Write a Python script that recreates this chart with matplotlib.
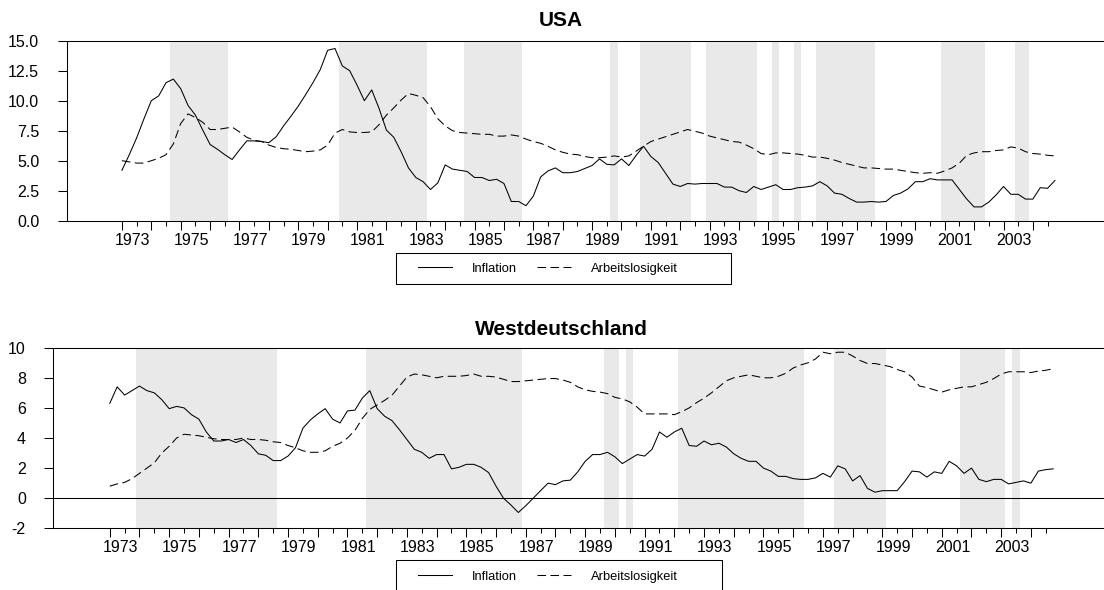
import numpy as np
import matplotlib
matplotlib.use('Agg')
import matplotlib.pyplot as plt
from matplotlib.lines import Line2D
from matplotlib.patches import Rectangle
import matplotlib.transforms as mtransforms

plt.rcParams['font.family'] = ['Liberation Sans', 'DejaVu Sans']

# quarterly data 1973Q1 - 2004Q4
start_year = 1973
n_quarters = 128
quarters = start_year + np.arange(n_quarters) / 4.0

usa_infl = [4.2, 5.5, 6.9, 8.5, 10.0, 10.4, 11.5, 11.8, 11.0, 9.6, 8.8, 7.55, 6.35, 5.95, 5.5, 5.1,
            5.9, 6.65, 6.65, 6.6, 6.5, 7.0, 7.9, 8.7, 9.55, 10.5, 11.5, 12.6, 14.2, 14.35, 12.9, 12.5,
            11.3, 10.0, 10.9, 9.35, 7.55, 6.95, 5.75, 4.4, 3.6, 3.25, 2.6, 3.15, 4.65, 4.3, 4.2, 4.1,
            3.6, 3.6, 3.35, 3.45, 3.1, 1.6, 1.6, 1.25, 2.05, 3.65, 4.15, 4.4, 4.0, 4.0, 4.1, 4.35,
            4.6, 5.15, 4.7, 4.65, 5.15, 4.6, 5.45, 6.2, 5.35, 4.85, 3.95, 3.05, 2.85, 3.1, 3.05, 3.1,
            3.1, 3.1, 2.8, 2.8, 2.5, 2.35, 2.85, 2.6, 2.8, 3.0, 2.6, 2.6, 2.75, 2.8, 2.9, 3.25,
            2.9, 2.3, 2.2, 1.85, 1.55, 1.55, 1.6, 1.55, 1.6, 2.1, 2.3, 2.65, 3.25, 3.25, 3.5, 3.4,
            3.4, 3.4, 2.6, 1.8, 1.15, 1.15, 1.55, 2.15, 2.85, 2.2, 2.2, 1.8, 1.8, 2.75, 2.7, 3.35]
usa_unemp = [5.0, 4.9, 4.8, 4.8, 5.0, 5.2, 5.5, 6.4, 8.1, 8.9, 8.6, 8.2, 7.6, 7.6, 7.7, 7.8,
             7.4, 6.95, 6.7, 6.6, 6.3, 6.1, 6.0, 5.95, 5.85, 5.75, 5.8, 5.9, 6.3, 7.3, 7.6, 7.4,
             7.35, 7.35, 7.4, 8.0, 8.8, 9.4, 10.05, 10.6, 10.45, 10.25, 9.5, 8.5, 7.9, 7.5, 7.35, 7.3,
             7.25, 7.2, 7.2, 7.05, 7.05, 7.15, 7.05, 6.8, 6.6, 6.45, 6.2, 5.9, 5.7, 5.55, 5.5, 5.35,
             5.25, 5.25, 5.3, 5.4, 5.3, 5.4, 5.8, 6.2, 6.6, 6.8, 7.0, 7.2, 7.4, 7.6, 7.45, 7.3,
             7.05, 6.9, 6.75, 6.6, 6.55, 6.3, 6.0, 5.6, 5.5, 5.65, 5.65, 5.6, 5.55, 5.45, 5.3, 5.3,
             5.2, 5.05, 4.85, 4.7, 4.55, 4.4, 4.4, 4.35, 4.3, 4.3, 4.2, 4.1, 4.0, 3.95, 4.0, 3.95,
             4.15, 4.4, 4.8, 5.45, 5.65, 5.75, 5.75, 5.85, 5.9, 6.15, 6.05, 5.75, 5.6, 5.55, 5.45, 5.4]
wd_infl = [6.3, 7.4, 6.85, 7.15, 7.45, 7.15, 7.0, 6.55, 5.95, 6.1, 6.0, 5.55, 5.25, 4.4, 3.8, 3.8,
           3.9, 3.7, 3.9, 3.5, 2.95, 2.85, 2.5, 2.5, 2.8, 3.35, 4.65, 5.2, 5.6, 5.95, 5.25, 5.0,
           5.8, 5.85, 6.65, 7.15, 5.95, 5.45, 5.15, 4.55, 3.9, 3.25, 3.05, 2.65, 2.9, 2.9, 1.95, 2.05,
           2.25, 2.25, 2.05, 1.7, 0.8, 0.0, -0.45, -0.95, -0.5, 0.0, 0.5, 1.0, 0.9, 1.15, 1.2, 1.75,
           2.45, 2.9, 2.9, 3.05, 2.75, 2.3, 2.6, 2.9, 2.8, 3.25, 4.4, 4.05, 4.4, 4.65, 3.5, 3.45,
           3.8, 3.55, 3.65, 3.4, 2.95, 2.65, 2.45, 2.45, 2.0, 1.8, 1.45, 1.45, 1.3, 1.25, 1.25, 1.35,
           1.65, 1.4, 2.15, 1.95, 1.15, 1.5, 0.65, 0.4, 0.5, 0.5, 0.5, 1.1, 1.8, 1.75, 1.4, 1.75,
           1.65, 2.45, 2.15, 1.65, 2.0, 1.25, 1.1, 1.25, 1.25, 0.95, 1.05, 1.15, 1.0, 1.8, 1.9, 1.95]
wd_unemp = [0.8, 0.95, 1.05, 1.3, 1.65, 2.0, 2.35, 3.0, 3.45, 4.0, 4.25, 4.2, 4.15, 4.05, 3.95, 3.9,
            3.9, 3.9, 4.0, 3.9, 3.9, 3.85, 3.75, 3.7, 3.5, 3.35, 3.15, 3.05, 3.05, 3.15, 3.45, 3.65,
            4.0, 4.5, 5.3, 5.9, 6.2, 6.5, 6.85, 7.45, 8.05, 8.25, 8.2, 8.1, 8.0, 8.1, 8.1, 8.1,
            8.15, 8.25, 8.1, 8.1, 8.05, 7.9, 7.75, 7.75, 7.8, 7.85, 7.9, 7.95, 7.95, 7.85, 7.7, 7.4,
            7.2, 7.1, 7.05, 6.95, 6.7, 6.6, 6.4, 6.05, 5.6, 5.6, 5.6, 5.6, 5.55, 5.75, 6.0, 6.35,
            6.65, 7.0, 7.4, 7.8, 8.0, 8.1, 8.2, 8.1, 8.0, 8.0, 8.1, 8.3, 8.65, 8.85, 9.0, 9.25,
            9.7, 9.6, 9.7, 9.7, 9.45, 9.15, 8.95, 8.95, 8.85, 8.75, 8.55, 8.4, 8.05, 7.45, 7.35, 7.2,
            7.05, 7.2, 7.3, 7.4, 7.4, 7.55, 7.7, 7.95, 8.25, 8.4, 8.4, 8.4, 8.35, 8.45, 8.5, 8.6]

# shaded periods (start, end) in decimal years
usa_shade_start = [1974.625, 1980.375, 1984.625, 1989.625, 1990.625, 1992.875, 1995.125, 1995.875, 1996.625, 2000.875, 2003.375]
usa_shade_end = [1976.625, 1983.375, 1986.625, 1989.875, 1992.375, 1994.625, 1995.375, 1996.125, 1998.625, 2002.375, 2003.875]
wd_shade_start = [1973.875, 1981.625, 1989.625, 1990.375, 1992.125, 1997.375, 2001.625, 2003.375]
wd_shade_end = [1978.625, 1986.875, 1990.125, 1990.625, 1996.375, 1999.125, 2003.125, 2003.625]

label_years = list(range(1973, 2004, 2))
usa_yticks = [0.0, 2.5, 5.0, 7.5, 10.0, 12.5, 15.0]
wd_yticks = [-2, 0, 2, 4, 6, 8, 10]

W, H = 1104, 590
fig = plt.figure(figsize=(W / 100, H / 100), dpi=100)

lw = 0.75
dash = (0, (8.2, 4.3))
shade_col = '#e9e9e9'


def panel(ax, infl, unemp, s0, s1, yticks, ylim, xlim, yfmt, title, title_y):
    for a, b in zip(s0, s1):
        ax.axvspan(a, b, color=shade_col, lw=0, zorder=0)
    ax.plot(quarters, infl, color='black', lw=lw, zorder=3)
    ax.plot(quarters, unemp, color='black', lw=lw, linestyle=dash, zorder=3)
    ax.set_xlim(*xlim)
    ax.set_ylim(*ylim)
    ax.set_yticks(yticks)
    ax.set_yticklabels([yfmt % v for v in yticks], fontsize=11.5)
    ax.set_xticks(np.arange(1973, 2005, 1.0))
    ax.set_xticks(np.arange(1973.5, 2005, 1.0), minor=True)
    ax.tick_params(axis='x', which='major', length=6.6, width=lw, labelbottom=False)
    ax.tick_params(axis='x', which='minor', length=3.3, width=lw)
    ax.tick_params(axis='y', length=6.8, width=lw, pad=13)
    for s in ['left', 'top', 'bottom']:
        ax.spines[s].set_linewidth(lw)
    ax.spines['right'].set_visible(False)
    trans = mtransforms.blended_transform_factory(ax.transData, ax.transAxes)
    for yr in label_years:
        ax.text(yr + 0.36, -0.066, str(yr), transform=trans, ha='center', va='top', fontsize=11.5)
    fig.text(561 / W, title_y, title, ha='center', va='center', fontsize=15, fontweight='bold')


ax1 = fig.add_axes([66.7 / W, 1 - 220.7 / H, 1 - 66.7 / W, 180 / H])
panel(ax1, usa_infl, usa_unemp, usa_shade_start, usa_shade_end, usa_yticks, (0, 15),
      (1971.12, 2006.42), '%.1f', 'USA', 1 - 20 / H)

ax2 = fig.add_axes([53.3 / W, 1 - 528.3 / H, 1 - 53.3 / W, 180.6 / H])
panel(ax2, wd_infl, wd_unemp, wd_shade_start, wd_shade_end, wd_yticks, (-2, 10),
      (1971.10, 2006.46), '%d', 'Westdeutschland', 1 - 329.5 / H)
ax2.axhline(0, color='black', lw=lw, zorder=2)

# legends with hand drawn boxes
handles = [Line2D([], [], color='black', lw=lw),
           Line2D([], [], color='black', lw=lw, linestyle=dash)]
names = ['Inflation', 'Arbeitslosigkeit']
for (x0, x1, ytop, ybot, ycen) in [(396, 731, 253, 284, 268.5), (396, 722, 560, 600, 576.5)]:
    fig.patches.append(Rectangle((x0 / W, 1 - ybot / H), (x1 - x0) / W, (ybot - ytop) / H,
                                 transform=fig.transFigure, fill=False, lw=lw, ec='black'))
    fig.legend(handles, names, ncol=2, frameon=False, fontsize=9.3, loc='center left',
               bbox_to_anchor=(418 / W, 1 - ycen / H), borderpad=0, borderaxespad=0,
               handlelength=2.64, handletextpad=1.55, columnspacing=1.55)

plt.savefig('out.png', dpi=100)
